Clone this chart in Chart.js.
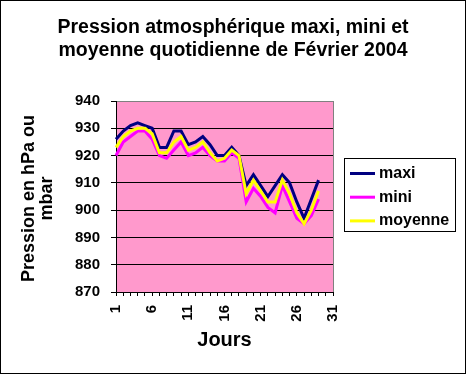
<!DOCTYPE html>
<html>
<head>
<meta charset="utf-8">
<script src="https://cdn.jsdelivr.net/npm/chart.js@4.4.1/dist/chart.umd.min.js"></script>
<style>
  html, body { margin: 0; padding: 0; background: #fff; }
  #wrap { width: 466px; height: 374px; }
</style>
</head>
<body>
<div id="wrap"><canvas id="chart" width="466" height="374"></canvas></div>
<script>
// categories: days of the month (axis runs 1..31, data stops at 29)
const days = ['1','2','3','4','5','6','7','8','9','10','11','12','13','14','15','16',
              '17','18','19','20','21','22','23','24','25','26','27','28','29','30','31'];
const shownDays = ['1','6','11','16','21','26','31'];

// daily pressure, hPa
const maxi    = [926, 929, 931, 932, 931, 930, 923, 923, 929, 929, 924, 925, 927, 924, 920,
                 920, 923, 920, 909, 913, 909, 905, 909, 913, 910, 903, 897, 904, 911];
const mini    = [920, 925, 927, 929, 929, 926, 920, 919, 922, 925, 920, 921, 923, 920, 918,
                 918, 921, 919, 903, 908, 905, 901, 899, 909, 903, 897, 895, 898, 904];
const moyenne = [923, 927, 929, 930, 930, 928, 921, 921, 925, 927, 922, 923, 925, 921, 918,
                 919, 922, 920, 906, 911, 907, 903, 903, 911, 906, 899, 895, 900, 907];

const yTicks = { min: 870, max: 940, step: 10 };
const chartTitle = ['Pression atmosphérique maxi, mini et', 'moyenne quotidienne de Février 2004'];
const yTitle = ['Pression en hPa ou', 'mbar'];

const FONT = '"Liberation Sans", Arial, sans-serif';

// white page, outer frame, pink plot area with grey border
const plotBackground = {
    id: 'plotBackground',
    beforeDraw(chart) {
        const { ctx, chartArea: a } = chart;
        ctx.save();
        ctx.fillStyle = '#fff';
        ctx.fillRect(0, 0, chart.width, chart.height);
        ctx.strokeStyle = '#000';
        ctx.lineWidth = 1;
        ctx.strokeRect(0.5, 0.5, chart.width - 1, chart.height - 1);
        ctx.fillStyle = '#ff99cc';
        ctx.fillRect(a.left, a.top, a.right - a.left + 1, a.bottom - a.top);
        ctx.strokeStyle = '#808080';
        ctx.beginPath();
        ctx.moveTo(a.left, a.top + 0.5);
        ctx.lineTo(a.right + 1, a.top + 0.5);
        ctx.moveTo(a.right + 0.5, a.top);
        ctx.lineTo(a.right + 0.5, a.bottom);
        ctx.stroke();
        ctx.restore();
    }
};

// chart title (two centred lines) and rotated two-line value axis title
const titles = {
    id: 'titles',
    afterDraw(chart) {
        const ctx = chart.ctx;
        const y = chart.scales.y;
        ctx.save();
        ctx.fillStyle = '#000';
        ctx.textAlign = 'center';
        ctx.textBaseline = 'alphabetic';
        ctx.font = 'bold 19.5px ' + FONT;
        chartTitle.forEach((line, i) => ctx.fillText(line, chart.width / 2, 33 + i * 22.5));

        ctx.translate(0, (y.top + y.bottom) / 2 + 2);
        ctx.rotate(-Math.PI / 2);
        ctx.font = 'bold 18px ' + FONT;
        ctx.textBaseline = 'middle';
        yTitle.forEach((line, i) => ctx.fillText(line, 0, 29 + i * 18));
        ctx.restore();
    }
};

// boxed legend on the right, in series order
const boxLegend = {
    id: 'boxLegend',
    afterDraw(chart) {
        const ctx = chart.ctx;
        const box = { x: 344.5, y: 158.5, w: 111, h: 73 };
        ctx.save();
        ctx.fillStyle = '#fff';
        ctx.fillRect(box.x, box.y, box.w, box.h);
        ctx.strokeStyle = '#000';
        ctx.lineWidth = 1;
        ctx.strokeRect(box.x, box.y, box.w, box.h);
        ctx.font = 'bold 16px ' + FONT;
        ctx.textBaseline = 'middle';
        ctx.textAlign = 'left';
        chart.data.datasets.forEach((ds, i) => {
            const y = 173.5 + i * 23.7;
            ctx.strokeStyle = ds.borderColor;
            ctx.lineWidth = 3;
            ctx.beginPath();
            ctx.moveTo(350, y);
            ctx.lineTo(375, y);
            ctx.stroke();
            ctx.fillStyle = '#000';
            ctx.fillText(ds.label, 379, y);
        });
        ctx.restore();
    }
};

const ctx = document.getElementById('chart').getContext('2d');
const pressureChart = new Chart(ctx, {
    type: 'line',
    data: {
        labels: days,
        datasets: [
            { label: 'maxi', data: maxi, borderColor: '#000080', order: 2 },
            { label: 'mini', data: mini, borderColor: '#ff00ff', order: 1 },
            { label: 'moyenne', data: moyenne, borderColor: '#ffff00', order: 0 }
        ]
    },
    options: {
        responsive: false,
        animation: false,
        datasets: {
            line: { borderWidth: 3, pointRadius: 0, tension: 0, fill: false }
        },
        layout: { padding: { left: 0, right: 133, top: 101, bottom: 0 } },
        plugins: {
            legend: { display: false },
            tooltip: { enabled: false },
            title: { display: false }
        },
        scales: {
            x: {
                ticks: {
                    autoSkip: false,
                    minRotation: 90,
                    maxRotation: 90,
                    padding: 9,
                    color: '#000',
                    font: { family: FONT, size: 15, weight: 'bold' },
                    callback: function (value, index) {
                        const lab = days[index];
                        return shownDays.includes(lab) ? lab : '';
                    }
                },
                grid: { drawOnChartArea: false, tickLength: 4, color: '#000' },
                border: { color: '#000', width: 1 },
                title: {
                    display: true,
                    text: 'Jours',
                    color: '#000',
                    font: { family: FONT, size: 20, weight: 'bold' },
                    padding: { top: 0, bottom: 22 }
                },
                afterFit: s => { s.height = 82; }
            },
            y: {
                min: yTicks.min,
                max: yTicks.max,
                ticks: {
                    stepSize: yTicks.step,
                    padding: 11,
                    color: '#000',
                    font: { family: FONT, size: 15, weight: 'bold' }
                },
                grid: {
                    color: c => (c.tick && c.tick.value === yTicks.max) ? '#808080' : '#000',
                    tickColor: '#000',
                    tickLength: 5,
                    lineWidth: 1
                },
                border: { color: '#000', width: 1 },
                afterFit: s => { s.width = 116; }
            }
        }
    },
    plugins: [plotBackground, titles, boxLegend]
});
</script>
</body>
</html>
